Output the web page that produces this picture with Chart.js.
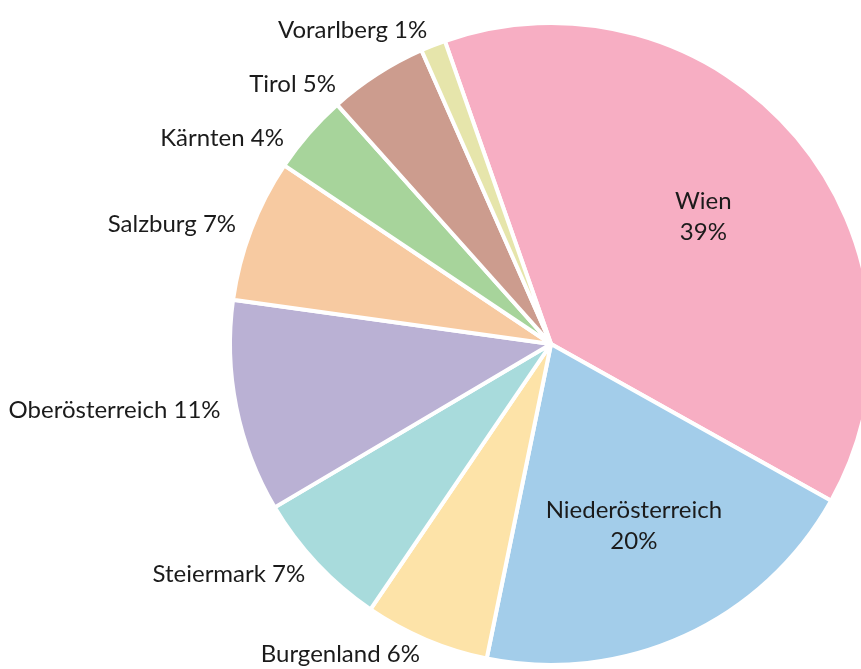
<!DOCTYPE html>
<html>
<head>
<meta charset="utf-8">
<script src="https://cdn.jsdelivr.net/npm/chart.js@4"></script>
<style>
  html, body { margin: 0; padding: 0; background: #fff; overflow: hidden; }
</style>
</head>
<body>
<canvas id="chart" width="861" height="669"></canvas>
<script>
const regions = ['Wien', 'Niederösterreich', 'Burgenland', 'Steiermark', 'Oberösterreich', 'Salzburg', 'Kärnten', 'Tirol', 'Vorarlberg'];
// shares
const shares = [38.5, 20.1, 6.3, 7.0, 10.7, 7.2, 4.0, 5.0, 1.25];
// percentages as printed on the chart
const percentLabels = ['39%', '20%', '6%', '7%', '11%', '7%', '4%', '5%', '1%'];
const colors = ['#f7aec3', '#a3cdea', '#fde3a8', '#a8dbdc', '#bab1d4', '#f7caa1', '#a7d49b', '#cc9c8e', '#e6e5ab'];

const FONT = '24px Lato, "Noto Sans", sans-serif';
const MIN_GAP = 54;

const sliceLabels = {
  id: 'sliceLabels',
  afterDatasetsDraw(chart) {
    const ctx = chart.ctx;
    const meta = chart.getDatasetMeta(0);
    const outer = [];
    ctx.save();
    ctx.font = FONT;
    ctx.fillStyle = '#1b1b1b';
    meta.data.forEach((arc, i) => {
      const p = arc.getProps(['x', 'y', 'startAngle', 'endAngle', 'outerRadius'], true);
      const mid = (p.startAngle + p.endAngle) / 2;
      if (shares[i] > 15) {
        const r = p.outerRadius * 0.62;
        const x = p.x + Math.cos(mid) * r;
        const y = p.y + Math.sin(mid) * r;
        ctx.textAlign = 'center';
        ctx.textBaseline = 'middle';
        ctx.fillText(regions[i], x, y - 15);
        ctx.fillText(percentLabels[i], x, y + 16);
      } else {
        const r = p.outerRadius + 16;
        outer.push({ i, r, cx: p.x, cy: p.y, y: p.y + Math.sin(mid) * r });
      }
    });
    // left-side labels: keep them apart vertically, then slide them along the circle
    outer.sort((a, b) => a.y - b.y);
    for (let k = 1; k < outer.length; k++) {
      if (outer[k].y - outer[k - 1].y < MIN_GAP) outer[k].y = outer[k - 1].y + MIN_GAP;
    }
    ctx.textAlign = 'right';
    ctx.textBaseline = 'middle';
    outer.forEach(l => {
      const dy = l.y - l.cy;
      const dx = Math.sqrt(Math.max(l.r * l.r - dy * dy, 0));
      ctx.fillText(regions[l.i] + ' ' + percentLabels[l.i], l.cx - dx, l.y);
    });
    ctx.restore();
  }
};

new Chart(document.getElementById('chart'), {
  type: 'pie',
  data: {
    labels: regions,
    datasets: [{
      data: shares,
      backgroundColor: colors,
      borderColor: '#ffffff',
      borderWidth: 4,
      clip: false
    }]
  },
  options: {
    responsive: false,
    animation: false,
    rotation: -19.3,
    radius: 321,
    layout: { padding: { left: 241, right: 0, top: 19, bottom: 0 } },
    plugins: {
      legend: { display: false },
      tooltip: { enabled: false }
    }
  },
  plugins: [sliceLabels]
});
</script>
</body>
</html>
